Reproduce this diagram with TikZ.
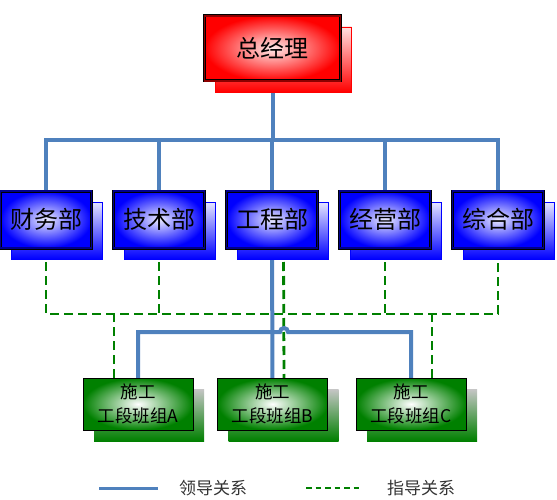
\documentclass[tikz,border=0pt]{standalone}
\usepackage{fontspec}
\setmainfont{Noto Sans CJK SC}
\usetikzlibrary{positioning,shadows,backgrounds}
\definecolor{leadblue}{RGB}{79,129,189}
\definecolor{guidegreen}{RGB}{0,128,0}
\begin{document}
\begin{tikzpicture}[x=1pt,y=-1pt,
  lead/.style={draw=leadblue,line width=4pt},
  guide/.style={draw=guidegreen,line width=2.8pt,dash pattern=on 9pt off 5pt},
  gmbox/.style={draw=black,line width=0.9pt,double=red!55!black,double distance=1.2pt,inner color=red!8,outer color=red,minimum width=136pt,minimum height=65pt,outer sep=0pt,font=\fontsize{24}{28}\selectfont,general shadow={shadow xshift=11pt,shadow yshift=-11pt,draw=red,line width=0.6pt,top color=red!12,bottom color=red}},
  deptbox/.style={draw=black,line width=0.9pt,double=blue!55!black,double distance=1.2pt,inner color=blue!8,outer color=blue,minimum width=91pt,minimum height=57pt,outer sep=0pt,font=\fontsize{24}{28}\selectfont,general shadow={shadow xshift=11pt,shadow yshift=-11pt,draw=blue,line width=0.6pt,top color=blue!10,bottom color=blue}},
  grpbox/.style={draw=black,line width=0.9pt,inner color=white,outer color=guidegreen,minimum width=110pt,minimum height=52pt,align=center,outer sep=0pt,font=\fontsize{17.5}{24}\selectfont,general shadow={shadow xshift=11pt,shadow yshift=-11pt,top color=gray!45,bottom color=guidegreen}},
  legtext/.style={text=black!80,font=\fontsize{17}{20}\selectfont}]
\useasboundingbox (0,0) rectangle (557,500);
% top and departments
\node[gmbox] (gm) at (272.5,48.5) {总经理};
\node[deptbox] (fin) at (46,219.5) {财务部};
\node[deptbox,right=22pt of fin] (tech) {技术部};
\node[deptbox,right=22pt of tech] (eng) {工程部};
\node[deptbox,right=22pt of eng] (jing) {经营部};
\node[deptbox,right=22pt of jing] (zong) {综合部};
% work groups
\node[grpbox] (grpA) at (138,404) {施工\\工段班组A};
\node[grpbox] (grpB) at (272.5,404) {施工\\工段班组B};
\node[grpbox] (grpC) at (411,404) {施工\\工段班组C};
\coordinate (topbus) at (272.5,140);
\coordinate (guidebus) at (272.5,314);
\coordinate (jump) at (284,332);
\begin{scope}[on background layer]
\draw[guide] (fin) |- (guidebus) -| (zong);
\foreach \d in {tech,jing} \draw[guide] (\d) -- (\d |- guidebus);
\draw[guide] ([xshift=-24pt]grpA.north) -- ([xshift=-24pt]grpA.north |- guidebus);
\draw[guide] ([xshift=21pt]grpC.north) -- ([xshift=21pt]grpC.north |- guidebus);
\draw[guide] ([xshift=11.5pt]eng.south) -- ([xshift=11.5pt]grpB.north);
\draw[lead] (gm) -- (topbus);
\draw[lead] (fin) |- (topbus) -| (zong);
\foreach \d in {tech,eng,jing} \draw[lead] (\d) -- (\d |- topbus);
\draw[lead] (eng) -- (grpB);
\draw[lead] (grpA) |- ([xshift=-4pt]jump) arc[start angle=180,end angle=0,radius=4pt] -| (grpC);
\end{scope}
% legend
\coordinate (leadA) at (99,488);
\coordinate (leadB) at (158,488);
\draw[lead,line width=3pt] (leadA) -- (leadB);
\node[legtext] (leadtxt) at (213,488) {领导关系};
\coordinate (guideA) at (306,488);
\coordinate (guideB) at (361,488);
\draw[guide,line width=2pt,dash pattern=on 5.5pt off 4pt] (guideA) -- (guideB);
\node[legtext] (guidetxt) at (421,488) {指导关系};
\end{tikzpicture}
\end{document}
